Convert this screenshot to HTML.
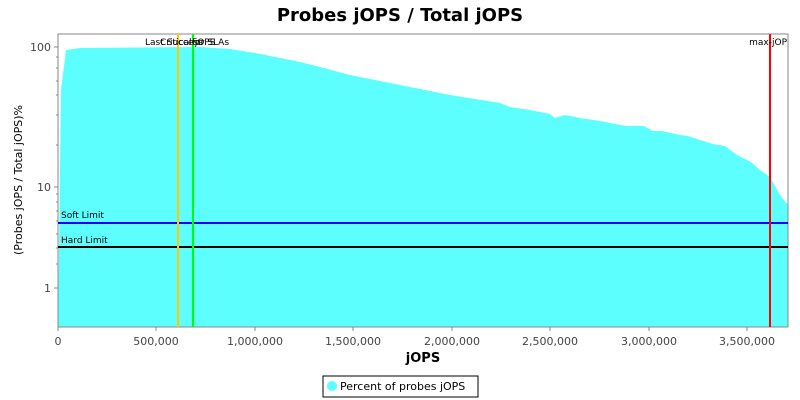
<!DOCTYPE html>
<html><head><style>body{margin:0;background:#fff}svg{display:block;font-family:"DejaVu Sans","Liberation Sans",sans-serif}</style></head><body>
<svg width="800" height="400" xmlns="http://www.w3.org/2000/svg">
<text x="400" y="21" text-anchor="middle" font-size="18" font-weight="bold">Probes jOPS / Total jOPS</text>
<polygon fill="#5cfefe" points="58,327 61,90 66,50 80,48 200,47 230,49 255,53 300,62 320,67 350,75 400,85 450,95 500,103 510,107 530,110 550,114 555,118 565,115 580,118 600,121 615,124 626,126 644,126 653,131 662,131 680,135 688,136 700,140 713,144 725,146 737,155 751,162 760,170 770,177 780,195 788,205 788,327"/>
<rect x="58" y="34" width="730" height="293" fill="none" stroke="#888" stroke-width="1"/>
<line x1="58" y1="223" x2="788" y2="223" stroke="#0000ff" stroke-width="2"/>
<line x1="58" y1="247" x2="788" y2="247" stroke="#000" stroke-width="2"/>
<line x1="178" y1="34" x2="178" y2="327" stroke="#ffc800" stroke-width="2"/>
<line x1="193" y1="34" x2="193" y2="327" stroke="#00ff00" stroke-width="2"/>
<line x1="770" y1="34" x2="770" y2="327" stroke="#ff0000" stroke-width="2"/>
<g font-size="9">
<text x="61" y="218">Soft Limit</text>
<text x="61" y="243">Hard Limit</text>
<text x="145" y="45">Last Success</text>
<text x="160" y="45">Critical-jOPS</text>
<text x="192" y="45">for SLAs</text>
<text x="787" y="45" text-anchor="end">max-jOP</text>
</g>
<g stroke="#888">
<line x1="54" y1="47" x2="58" y2="47"/><line x1="54" y1="187" x2="58" y2="187"/><line x1="54" y1="288" x2="58" y2="288"/>
<line x1="56" y1="57" x2="58" y2="57"/><line x1="56" y1="68" x2="58" y2="68"/><line x1="56" y1="81" x2="58" y2="81"/><line x1="56" y1="95" x2="58" y2="95"/><line x1="56" y1="115" x2="58" y2="115"/><line x1="56" y1="145" x2="58" y2="145"/>
<line x1="56" y1="194" x2="58" y2="194"/><line x1="56" y1="202" x2="58" y2="202"/><line x1="56" y1="211" x2="58" y2="211"/><line x1="56" y1="221" x2="58" y2="221"/><line x1="56" y1="234" x2="58" y2="234"/><line x1="56" y1="248" x2="58" y2="248"/><line x1="56" y1="264" x2="58" y2="264"/>
<line x1="58" y1="327" x2="58" y2="331"/><line x1="156" y1="327" x2="156" y2="331"/><line x1="255" y1="327" x2="255" y2="331"/><line x1="353" y1="327" x2="353" y2="331"/><line x1="452" y1="327" x2="452" y2="331"/><line x1="550" y1="327" x2="550" y2="331"/><line x1="649" y1="327" x2="649" y2="331"/><line x1="747" y1="327" x2="747" y2="331"/>
</g>
<g font-size="11" fill="#444">
<text x="51" y="51" text-anchor="end">100</text><text x="51" y="191" text-anchor="end">10</text><text x="51" y="292" text-anchor="end">1</text>
<g text-anchor="middle"><text x="58" y="345">0</text><text x="156" y="345">500,000</text><text x="255" y="345">1,000,000</text><text x="353" y="345">1,500,000</text><text x="452" y="345">2,000,000</text><text x="550" y="345">2,500,000</text><text x="649" y="345">3,000,000</text><text x="747" y="345">3,500,000</text></g>
</g>
<text x="423" y="362" text-anchor="middle" font-size="13" font-weight="bold">jOPS</text>
<text transform="translate(22,180) rotate(-90)" text-anchor="middle" font-size="11">(Probes jOPS / Total jOPS)%</text>
<rect x="323" y="376" width="155" height="21" fill="#fff" stroke="#000"/>
<circle cx="332" cy="386" r="5" fill="#5cfefe"/>
<text x="340" y="390" font-size="11">Percent of probes jOPS</text>
</svg>
</body></html>
